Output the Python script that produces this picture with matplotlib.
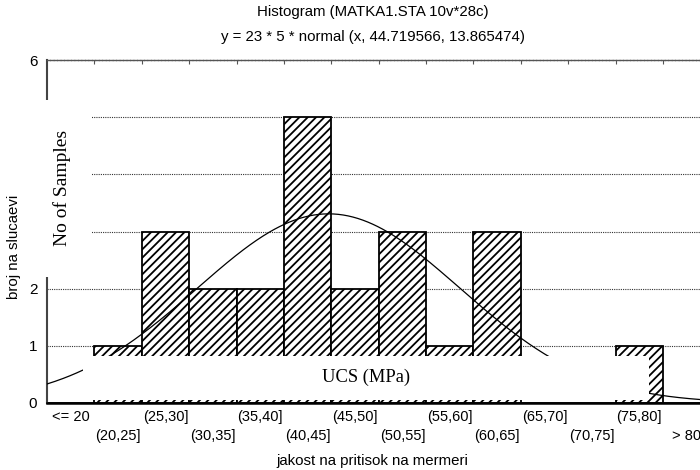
import numpy as np
import matplotlib
matplotlib.use("Agg")
import matplotlib.pyplot as plt
from matplotlib.patches import Rectangle

# ---- data ----
categories = ["<= 20", "(20,25]", "(25,30]", "(30,35]", "(35,40]", "(40,45]",
              "(45,50]", "(50,55]", "(55,60]", "(60,65]", "(65,70]", "(70,75]",
              "(75,80]", "> 80"]
counts = [0, 1, 3, 2, 2, 5, 2, 3, 1, 3, 0, 0, 1, 0]
bin_left = [15, 20, 25, 30, 35, 40, 45, 50, 55, 60, 65, 70, 75, 80]
bin_width = 5
n_total = 23
mu = 44.719566
sigma = 13.865474
ytick_vals = [0, 1, 2, 6]
grid_vals = [1, 2, 3, 4, 5]

plt.rcParams['font.family'] = ['Liberation Sans', 'DejaVu Sans']
plt.rcParams['hatch.linewidth'] = 1.3

W, H = 700, 470
fig = plt.figure(figsize=(7, 4.7), dpi=100)

def fx(px):
    return px / W
def fy(py):
    return 1 - py / H

ax_l, ax_r, ax_t, ax_b = 47, 700, 60, 403
ax = fig.add_axes([fx(ax_l), fy(ax_b), fx(ax_r - ax_l), (ax_b - ax_t) / H])

xmin = 15
px_per = (663 - 47) / 65.0
xmax = 15 + (ax_r - ax_l) / px_per

# gridlines
for g in grid_vals:
    ax.axhline(g, color='#333333', lw=0.8, ls=(0, (1, 1)), zorder=1)

centers = [b + bin_width / 2 for b in bin_left]
ax.bar(centers, counts, width=bin_width, facecolor='white',
       edgecolor='black', linewidth=1.3, hatch='////', zorder=2)

# fitted normal curve
xs = np.linspace(xmin, xmax, 400)
ys = n_total * bin_width * np.exp(-0.5 * ((xs - mu) / sigma) ** 2) / (sigma * np.sqrt(2 * np.pi))
ax.plot(xs, ys, color='black', lw=0.9, zorder=3)

# spines
ax.spines['right'].set_visible(False)
ax.spines['left'].set_linewidth(1.5)
ax.spines['left'].set_color('#444444')
ax.spines['bottom'].set_linewidth(1.8)
ax.spines['top'].set_color('#555555')
ax.spines['top'].set_linewidth(1.0)
ax.spines['top'].set_linestyle((0, (2, 0.5)))

ax.set_yticks(ytick_vals)
ax.set_yticklabels([str(v) for v in ytick_vals], fontsize=11)
ax.tick_params(axis='y', length=0, pad=7)
ax.set_xticks([])
# top ticks at bin edges
ax.set_xticks(bin_left[1:], minor=True)
ax.tick_params(axis='x', which='minor', top=True, bottom=False, direction='in',
               length=3, width=0.8, color='#555555')
ax.set_xlim(xmin, xmax)
ax.set_ylim(0, 6)

# category labels (alternating rows)
trans = ax.get_xaxis_transform()
row_y = [(ax_b - 417) / (ax_b - ax_t), (ax_b - 436) / (ax_b - ax_t)]
for i, (c, lab) in enumerate(zip(centers, categories)):
    ax.text(c, row_y[i % 2], lab, transform=trans, ha='center', va='center',
            fontsize=10.5, clip_on=False)

fig.text(fx(372), fy(461), "jakost na pritisok na mermeri", ha='center', va='center', fontsize=10.8)
fig.text(fx(14), fy(247), "broj na slucaevi", ha='center', va='center', rotation=90, fontsize=10.8)
fig.text(fx(373), fy(12), "Histogram (MATKA1.STA 10v*28c)", ha='center', va='center', fontsize=10.8)
fig.text(fx(373), fy(37), "y = 23 * 5 * normal (x, 44.719566, 13.865474)", ha='center', va='center', fontsize=10.8)

# white overlay boxes
def box(x0, y0, x1, y1):
    r = Rectangle((fx(x0), fy(y1)), fx(x1 - x0), (y1 - y0) / H, transform=fig.transFigure,
                  facecolor='white', edgecolor='none', zorder=10)
    fig.add_artist(r)

box(25, 100, 92, 277)
box(83, 356, 649, 400)

fig.text(fx(62), fy(188), "No of Samples", ha='center', va='center', rotation=90,
         fontsize=14, family=['Liberation Serif', 'DejaVu Serif'], zorder=11)
fig.text(fx(366), fy(377), "UCS (MPa)", ha='center', va='center',
         fontsize=13.3, family=['Liberation Serif', 'DejaVu Serif'], zorder=11)

fig.savefig("out.png", dpi=100)
